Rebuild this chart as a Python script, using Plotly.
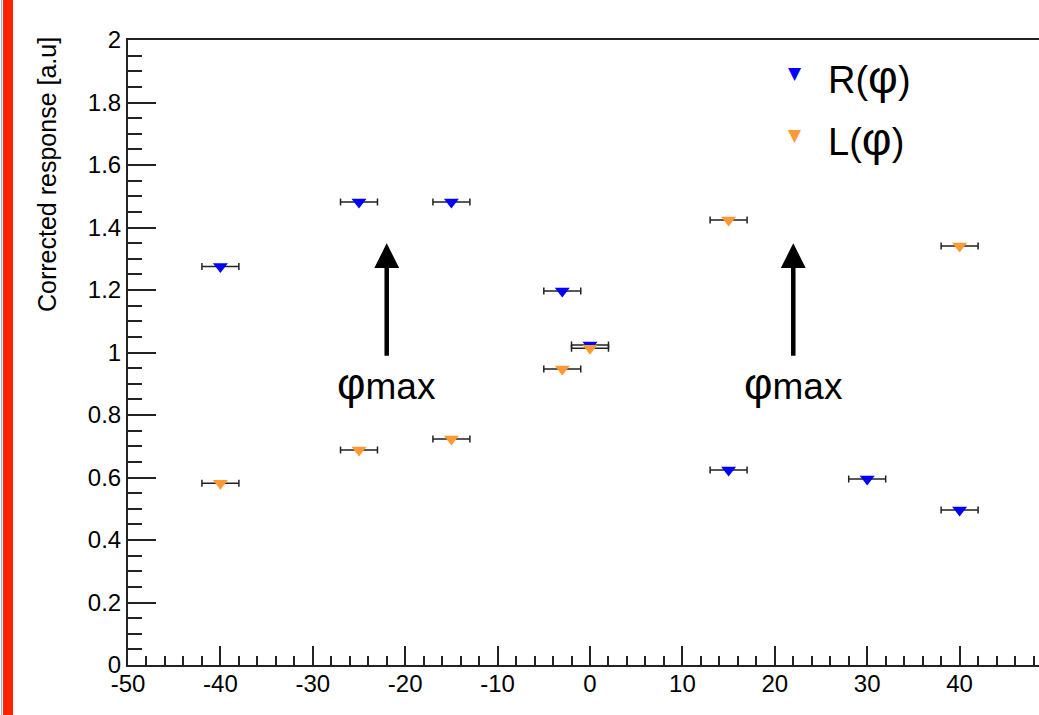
import plotly.graph_objects as go

# ---- data ----
phi_R = [-40, -25, -15, -3, 0, 15, 30, 40]
resp_R = [1.275, 1.482, 1.482, 1.197, 1.024, 0.624, 0.595, 0.496]
phi_L = [-40, -25, -15, -3, 0, 15, 40]
resp_L = [0.582, 0.688, 0.723, 0.947, 1.014, 1.424, 1.341]
phi_err = 2.0
arrow_x = [-22, 22]
arrow_y0 = 0.985
arrow_y1 = 1.35
label_y = 0.90

x_ticks = [-50, -40, -30, -20, -10, 0, 10, 20, 30, 40]
x_ticklabels = ["-50", "-40", "-30", "-20", "-10", "0", "10", "20", "30", "40"]
y_ticks = [0, 0.2, 0.4, 0.6, 0.8, 1, 1.2, 1.4, 1.6, 1.8, 2]
y_ticklabels = ["0", "0.2", "0.4", "0.6", "0.8", "1", "1.2", "1.4", "1.6", "1.8", "2"]

BLUE = "#0000ff"
ORANGE = "#ff9933"
FONT = "Liberation Sans, Arial, sans-serif"

W, H = 1039, 715
ML, MR, MT, MB = 128, 0, 40, 50
PW, PH = W - ML - MR, H - MT - MB


def px2paper(px, py):
    return (px - ML) / PW, (H - MB - py) / PH


fig = go.Figure()

err = dict(type="constant", value=phi_err, color="#222222", thickness=1.5, width=3.5)

fig.add_trace(go.Scatter(
    x=phi_R, y=resp_R, mode="markers", name="R(φ)",
    marker=dict(symbol="triangle-down", size=13, color=BLUE, line=dict(width=0)),
    error_x=err, showlegend=False))
fig.add_trace(go.Scatter(
    x=phi_L, y=resp_L, mode="markers", name="L(φ)",
    marker=dict(symbol="triangle-down", size=13, color=ORANGE, line=dict(width=0)),
    error_x=err, showlegend=False))

annotations = []
# arrows and labels
for ax_ in arrow_x:
    annotations.append(dict(
        x=ax_, y=arrow_y1, ax=ax_, ay=arrow_y0, xref="x", yref="y", axref="x", ayref="y",
        showarrow=True, arrowhead=2, arrowsize=1.1, arrowwidth=4.5, arrowcolor="black", text=""))
    annotations.append(dict(
        x=ax_, y=label_y, xref="x", yref="y", showarrow=False,
        text="<span style='font-size:44px'>φ</span>max",
        font=dict(family=FONT, size=37, color="black"), xanchor="center", yanchor="middle"))

# legend (drawn as text)
for (py, col, lab) in [(73, BLUE, "R(φ)"), (135, ORANGE, "L(φ)")]:
    mx, my = px2paper(795, py)
    annotations.append(dict(x=mx, y=my, xref="paper", yref="paper", showarrow=False,
                            text="▼", font=dict(family="DejaVu Sans", size=17, color=col),
                            xanchor="center", yanchor="middle"))
    tx, ty = px2paper(826, py + 4)
    annotations.append(dict(x=tx, y=ty, xref="paper", yref="paper", showarrow=False,
                            text=lab.replace("φ", "<span style='font-size:46px'>φ</span>"),
                            font=dict(family=FONT, size=38, color="black"),
                            xanchor="left", yanchor="middle"))

# y axis title
yx, yy = px2paper(47, 175)
annotations.append(dict(x=yx, y=yy, xref="paper", yref="paper", showarrow=False,
                        text="Corrected response [a.u]", textangle=-90,
                        font=dict(family=FONT, size=25, color="black"),
                        xanchor="center", yanchor="middle"))
# x axis title (cut off at right edge)
xx, xy = px2paper(1028, 703)
annotations.append(dict(x=xx, y=xy, xref="paper", yref="paper", showarrow=False,
                        text="φ [deg]", font=dict(family=FONT, size=26, color="black"),
                        xanchor="left", yanchor="top"))

shapes = [
    dict(type="rect", xref="paper", yref="paper", xsizemode="pixel", ysizemode="pixel",
         xanchor=0, yanchor=0, x0=-125, x1=-115, y0=-MB - 5, y1=PH + MT + 5,
         fillcolor="#ff2200", line=dict(width=0), layer="above"),
    dict(type="rect", xref="paper", yref="paper", xsizemode="pixel", ysizemode="pixel",
         xanchor=0, yanchor=0, x0=-127, x1=-126, y0=-MB - 5, y1=PH + MT + 5,
         fillcolor="#8fa8ff", line=dict(width=0), layer="above"),
]

fig.update_layout(
    width=W, height=H,
    margin=dict(l=ML, r=MR, t=MT, b=MB, pad=0),
    paper_bgcolor="white", plot_bgcolor="white",
    font=dict(family=FONT, size=21, color="black"),
    annotations=annotations, shapes=shapes,
    xaxis=dict(range=[-50, -50 + PW / 9.24], tickvals=x_ticks, ticktext=x_ticklabels,
               ticks="inside", ticklen=19, ticklabelstandoff=-4,
               tickwidth=1.5, tickcolor="#222", showline=True, linecolor="#222", linewidth=2,
               mirror=True, showgrid=False, zeroline=False,
               tickfont=dict(size=24, family=FONT),
               minor=dict(dtick=2, tick0=0, ticks="inside", ticklen=9, tickwidth=1.5,
                          tickcolor="#222", showgrid=False)),
    yaxis=dict(range=[0, 2], tickvals=y_ticks, ticktext=y_ticklabels, ticks="inside",
               ticklen=28, tickwidth=1.5, tickcolor="#222", showline=True, linecolor="#222",
               linewidth=2, mirror=False, showgrid=False, zeroline=False,
               tickfont=dict(size=24, family=FONT),
               minor=dict(dtick=0.05, tick0=0, ticks="inside", ticklen=14, tickwidth=1.5,
                          tickcolor="#222", showgrid=False)),
)

fig.write_html("out.html")
